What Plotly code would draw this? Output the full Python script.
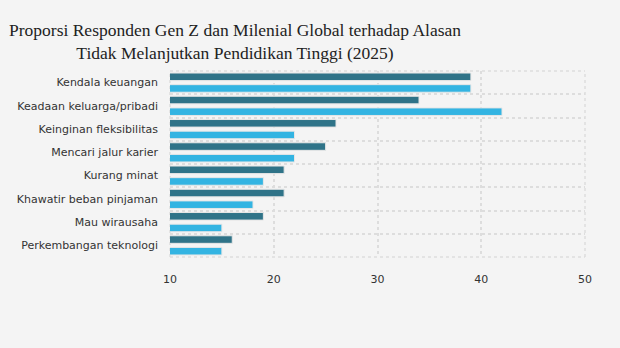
import plotly.graph_objects as go

categories = ["Kendala keuangan", "Keadaan keluarga/pribadi", "Keinginan fleksibilitas",
              "Mencari jalur karier", "Kurang minat", "Khawatir beban pinjaman",
              "Mau wirausaha", "Perkembangan teknologi"]
gen_z = [39, 34, 26, 25, 21, 21, 19, 16]
milenial = [39, 42, 22, 22, 19, 18, 15, 15]
x_ticks = [10, 20, 30, 40, 50]

grid = "#dddddd"

fig = go.Figure()
fig.add_trace(go.Bar(y=categories, x=gen_z, orientation="h", name="Gen Z",
                     marker=dict(color="#2f7388", line=dict(color="#e6e6e6", width=1))))
fig.add_trace(go.Bar(y=categories, x=milenial, orientation="h", name="Milenial",
                     marker=dict(color="#33b4e2", line=dict(color="#e6e6e6", width=1))))

# frame edges of the plot area (dotted like the grid)
for x0, y0, x1, y1 in [(0, 1, 1, 1), (0, 0, 1, 0), (0, 0, 0, 1), (1, 0, 1, 1)]:
    fig.add_shape(type="line", xref="paper", yref="paper", x0=x0, y0=y0, x1=x1, y1=y1,
                  line=dict(color=grid, width=1.5, dash="dot"), layer="below")

fig.update_layout(
    width=620, height=348,
    paper_bgcolor="#f4f4f4", plot_bgcolor="#f4f4f4",
    margin=dict(l=170, r=35, t=71, b=91),
    barmode="group", bargap=0.0, bargroupgap=0.35,
    showlegend=False,
    title=dict(text="Proporsi Responden Gen Z dan Milenial Global terhadap Alasan<br>Tidak Melanjutkan Pendidikan Tinggi (2025)",
               x=235/620, xanchor="center", y=0.896, yanchor="top",
               font=dict(family="Liberation Serif", size=17.5, color="#222222")),
    font=dict(family="DejaVu Sans", size=11, color="#333333"),
)
fig.update_xaxes(range=[10, 50], tickvals=x_ticks, showgrid=True, gridcolor=grid,
                 griddash="dot", gridwidth=1.5, zeroline=False, showline=False,
                 ticks="outside", ticklen=12, tickcolor="rgba(0,0,0,0)",
                 tickfont=dict(size=11, color="#333333"))
fig.update_yaxes(autorange="reversed", type="category", tickson="boundaries",
                 showgrid=True, gridcolor=grid, griddash="dot", gridwidth=1.5,
                 showline=False, ticks="", ticklabelstandoff=11,
                 tickfont=dict(size=11, color="#333333"))

fig.write_html("out.html")
